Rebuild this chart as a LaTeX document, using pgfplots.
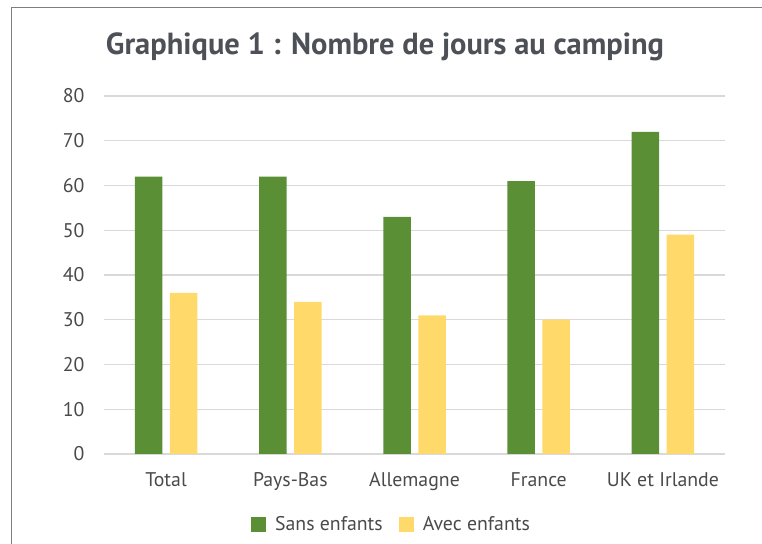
\documentclass[border=0pt]{standalone}
\usepackage{pgfplots}
\pgfplotsset{compat=1.18}
\usepackage{fontspec}
\setmainfont{PT Sans}
\definecolor{barg}{HTML}{5A8F35}
\definecolor{bary}{HTML}{FFDA6B}
\definecolor{txt}{HTML}{4A4A4A}
\definecolor{ttl}{HTML}{4D5157}
\definecolor{grd}{HTML}{D9D9D9}
\definecolor{frm}{HTML}{7F7F7F}
\begin{document}
\begin{tikzpicture}[x=1bp,y=1bp]
\useasboundingbox (0,0) rectangle (762,544);
\draw[frm,line width=1.5bp] (11.5,0) -- (11.5,536.5) -- (762,536.5);
\node[font=\fontsize{30.5bp}{34bp}\selectfont\bfseries,text=ttl] at (385,497) {Graphique 1 : Nombre de jours au camping};
\begin{axis}[
  at={(104bp,90bp)}, anchor=south west,
  scale only axis, width=621bp, height=358bp,
  xmin=-0.5, xmax=4.5, ymin=0, ymax=80,
  xtick={0,1,2,3,4},
  xticklabels={Total,Pays-Bas,Allemagne,France,UK et Irlande},
  ytick={0,10,...,80},
  ymajorgrids, grid style={grd,line width=1.3bp},
  axis line style={draw=none},
  major tick length=0pt,
  tick label style={font=\fontsize{19.8bp}{22bp}\selectfont,text=txt},
  /pgf/number format/assume math mode=true,
  yticklabel style={xshift=-16bp},
  xticklabel style={yshift=-15bp},
  ybar, bar width=27.5bp,
  legend style={at={(0.463,-0.196)}, anchor=center, draw=none,
    legend columns=2, font=\fontsize{19.8bp}{22bp}\selectfont, text=txt,
    /tikz/every even column/.append style={column sep=14bp},
    /tikz/every odd column/.append style={column sep=7bp}},
]
\addplot[fill=barg, draw=none, bar shift=-17.5bp,
  legend image code/.code={\fill[barg] (0bp,-7.5bp) rectangle (15bp,7.5bp);}]
  coordinates {(0,62) (1,62) (2,53) (3,61) (4,72)};
\addlegendentry{Sans enfants}
\addplot[fill=bary, draw=none, bar shift=17.5bp,
  legend image code/.code={\fill[bary] (0bp,-7.5bp) rectangle (15bp,7.5bp);}]
  coordinates {(0,36) (1,34) (2,31) (3,30) (4,49)};
\addlegendentry{Avec enfants}
\end{axis}
\end{tikzpicture}
\end{document}
